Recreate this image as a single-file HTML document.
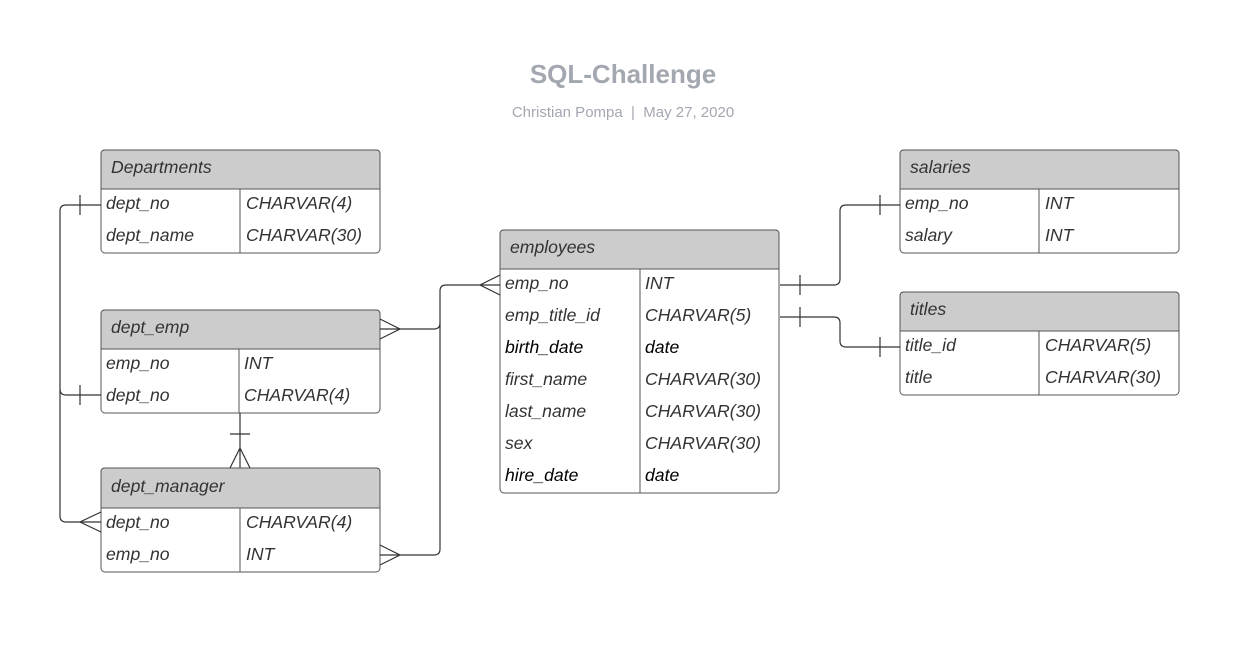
<!DOCTYPE html>
<html><head><meta charset="utf-8"><style>
body{margin:0;background:#fff;}
svg{display:block;font-family:"Liberation Sans",sans-serif;}
.h{fill:#ccc;}
.t{font-size:17.6px;font-style:italic;fill:#333;}
.b{fill:#000;}
.l{stroke:#333;stroke-width:1.2;fill:none;}
</style></head><body>
<svg width="1249" height="660" viewBox="0 0 1249 660">
<text x="623" y="83" text-anchor="middle" font-size="26" font-weight="bold" fill="#a3a7b0">SQL-Challenge</text>
<text x="623" y="117" text-anchor="middle" font-size="15" fill="#a3a7b0" style="white-space:pre">Christian Pompa  |  May 27, 2020</text>

<!-- Departments -->
<rect x="101" y="150" width="279" height="103" rx="4" fill="#fff" stroke="#555"/>
<path d="M105 150 H376 Q380 150 380 154 V189 H101 V154 Q101 150 105 150Z" class="h" stroke="#555"/>
<line x1="240" y1="189" x2="240" y2="253" stroke="#555"/>
<text class="t" x="111" y="173">Departments</text>
<text class="t" x="106" y="209">dept_no</text><text class="t" x="246" y="209">CHARVAR(4)</text>
<text class="t" x="106" y="241">dept_name</text><text class="t" x="246" y="241">CHARVAR(30)</text>

<!-- dept_emp -->
<rect x="101" y="310" width="279" height="103" rx="4" fill="#fff" stroke="#555"/>
<path d="M105 310 H376 Q380 310 380 314 V349 H101 V314 Q101 310 105 310Z" class="h" stroke="#555"/>
<line x1="239" y1="349" x2="239" y2="413" stroke="#555"/>
<text class="t" x="111" y="333">dept_emp</text>
<text class="t" x="106" y="369">emp_no</text><text class="t" x="244" y="369">INT</text>
<text class="t" x="106" y="401">dept_no</text><text class="t" x="244" y="401">CHARVAR(4)</text>

<!-- dept_manager -->
<rect x="101" y="468" width="279" height="104" rx="4" fill="#fff" stroke="#555"/>
<path d="M105 468 H376 Q380 468 380 472 V508 H101 V472 Q101 468 105 468Z" class="h" stroke="#555"/>
<line x1="240" y1="508" x2="240" y2="572" stroke="#555"/>
<text class="t" x="111" y="492">dept_manager</text>
<text class="t" x="106" y="528">dept_no</text><text class="t" x="246" y="528">CHARVAR(4)</text>
<text class="t" x="106" y="560">emp_no</text><text class="t" x="246" y="560">INT</text>

<!-- employees -->
<rect x="500" y="230" width="279" height="263" rx="4" fill="#fff" stroke="#555"/>
<path d="M504 230 H775 Q779 230 779 234 V269 H500 V234 Q500 230 504 230Z" class="h" stroke="#555"/>
<line x1="640" y1="269" x2="640" y2="493" stroke="#555"/>
<text class="t" x="510" y="253">employees</text>
<text class="t" x="505" y="289">emp_no</text><text class="t" x="645" y="289">INT</text>
<text class="t" x="505" y="321">emp_title_id</text><text class="t" x="645" y="321">CHARVAR(5)</text>
<text class="t b" x="505" y="353">birth_date</text><text class="t b" x="645" y="353">date</text>
<text class="t" x="505" y="385">first_name</text><text class="t" x="645" y="385">CHARVAR(30)</text>
<text class="t" x="505" y="417">last_name</text><text class="t" x="645" y="417">CHARVAR(30)</text>
<text class="t" x="505" y="449">sex</text><text class="t" x="645" y="449">CHARVAR(30)</text>
<text class="t b" x="505" y="481">hire_date</text><text class="t b" x="645" y="481">date</text>

<!-- salaries -->
<rect x="900" y="150" width="279" height="103" rx="4" fill="#fff" stroke="#555"/>
<path d="M904 150 H1175 Q1179 150 1179 154 V189 H900 V154 Q900 150 904 150Z" class="h" stroke="#555"/>
<line x1="1039" y1="189" x2="1039" y2="253" stroke="#555"/>
<text class="t" x="910" y="173">salaries</text>
<text class="t" x="905" y="209">emp_no</text><text class="t" x="1045" y="209">INT</text>
<text class="t" x="905" y="241">salary</text><text class="t" x="1045" y="241">INT</text>

<!-- titles -->
<rect x="900" y="292" width="279" height="103" rx="4" fill="#fff" stroke="#555"/>
<path d="M904 292 H1175 Q1179 292 1179 296 V331 H900 V296 Q900 292 904 292Z" class="h" stroke="#555"/>
<line x1="1039" y1="331" x2="1039" y2="395" stroke="#555"/>
<text class="t" x="910" y="315">titles</text>
<text class="t" x="905" y="351">title_id</text><text class="t" x="1045" y="351">CHARVAR(5)</text>
<text class="t" x="905" y="383">title</text><text class="t" x="1045" y="383">CHARVAR(30)</text>

<!-- connectors -->
<path class="l" d="M101 205 H66 Q60 205 60 211 V389 Q60 395 66 395 H101"/>
<path class="l" d="M60 389 V516 Q60 522 66 522 H101"/>
<path class="l" d="M80 195 V215 M80 385 V405"/>
<path class="l" d="M101 512 L80 522 L101 532"/>

<path class="l" d="M380 319 L400 329 L380 339 M380 329 H434 Q440 329 440 323 V291 Q440 285 446 285 H500"/>
<path class="l" d="M500 275 L480 285 L500 295"/>
<path class="l" d="M440 323 V549 Q440 555 434 555 H380 M380 545 L400 555 L380 565"/>

<path class="l" d="M240 413 V468 M230 434 H250 M230 468 L240 448 L250 468"/>

<path class="l" d="M780 285 H834 Q840 285 840 279 V211 Q840 205 846 205 H900 M800 275 V295 M880 195 V215"/>
<path class="l" d="M780 317 H834 Q840 317 840 323 V341 Q840 347 846 347 H900 M800 307 V327 M880 337 V357"/>
</svg>
</body></html>
